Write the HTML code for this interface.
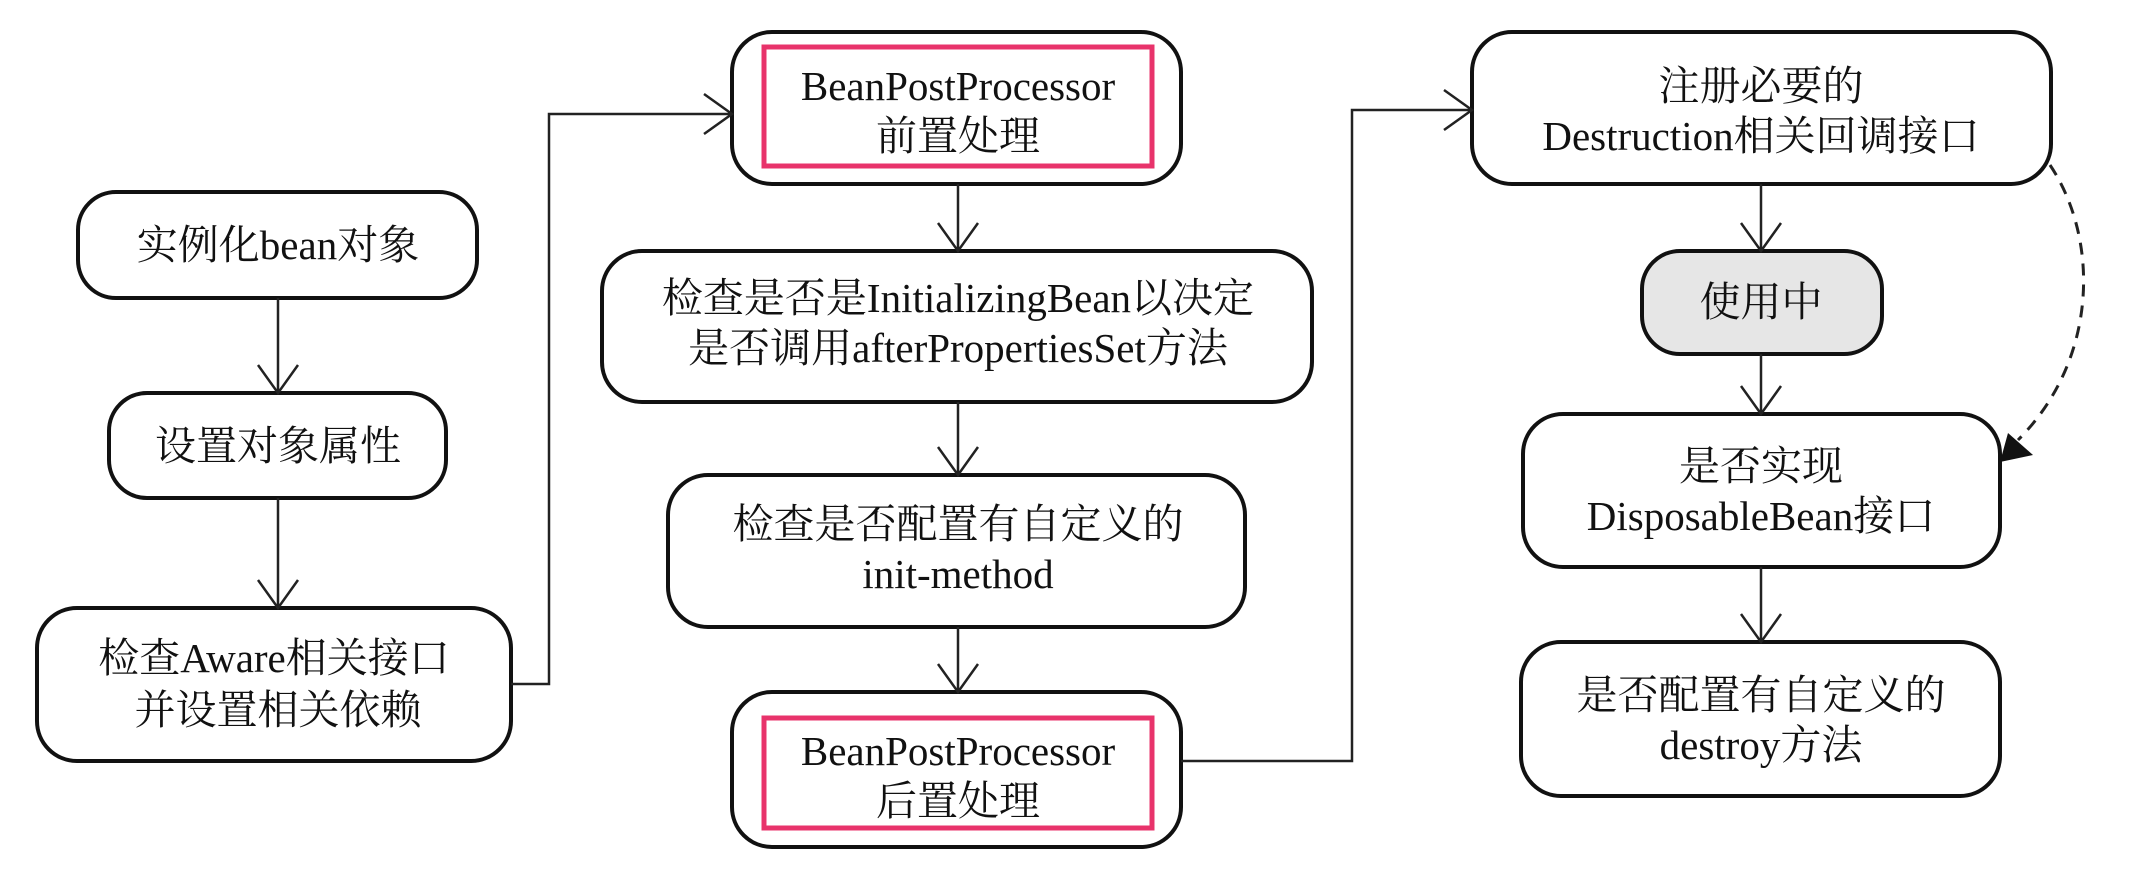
<!DOCTYPE html>
<html><head><meta charset="utf-8"><style>
html,body{margin:0;padding:0;background:#fff;}
svg{display:block}
text{font-family:"Liberation Serif","Noto Serif CJK SC",serif;font-size:41px;fill:#111;text-anchor:middle}
</style></head><body>
<svg width="2134" height="874" viewBox="0 0 2134 874" xmlns="http://www.w3.org/2000/svg">
<defs>
<marker id="fa" markerWidth="12" markerHeight="12" refX="10" refY="6" orient="auto" markerUnits="userSpaceOnUse"></marker>
</defs>
<g fill="none" stroke="#111" stroke-width="4">
<rect x="78" y="192" width="399" height="106" rx="38"/>
<rect x="109" y="393" width="337" height="105" rx="38"/>
<rect x="37" y="608" width="474" height="153" rx="40"/>
<rect x="732" y="32" width="449" height="152" rx="40"/>
<rect x="602" y="251" width="710" height="151" rx="40"/>
<rect x="668" y="475" width="577" height="152" rx="40"/>
<rect x="732" y="692" width="449" height="155" rx="40"/>
<rect x="1472" y="32" width="579" height="152" rx="40"/>
<rect x="1642" y="251" width="240" height="103" rx="38" fill="#e6e6e6"/>
<rect x="1523" y="414" width="477" height="153" rx="40"/>
<rect x="1521" y="642" width="479" height="154" rx="40"/>
</g>
<g fill="none" stroke="#e8336b" stroke-width="5">
<rect x="764" y="47" width="388" height="119"/>
<rect x="764" y="718" width="388" height="110"/>
</g>
<g fill="none" stroke="#222" stroke-width="2.5">
<path d="M278 298V393M258 365L278 393L298 365"/>
<path d="M278 498V608M258 580L278 608L298 580"/>
<path d="M511 684H549V114H732M704 94L732 114L704 134"/>
<path d="M958 184V251M938 223L958 251L978 223"/>
<path d="M958 402V475M938 447L958 475L978 447"/>
<path d="M958 627V692M938 664L958 692L978 664"/>
<path d="M1181 761H1352V110H1472M1444 90L1472 110L1444 130"/>
<path d="M1761 184V251M1741 223L1761 251L1781 223"/>
<path d="M1761 354V414M1741 386L1761 414L1781 386"/>
<path d="M1761 567V642M1741 614L1761 642L1781 614"/>
<path d="M2050 165C2100 240 2098 360 2018 440" stroke-dasharray="12 9" stroke-width="3"/>
</g>
<polygon points="2000,462 2008,433 2033,455" fill="#111"/>
<text x="278" y="259">实例化bean对象</text>
<text x="278" y="460">设置对象属性</text>
<text x="274" y="672">检查Aware相关接口</text>
<text x="278" y="724">并设置相关依赖</text>
<text x="958" y="100">BeanPostProcessor</text>
<text x="958" y="150">前置处理</text>
<text x="958" y="312">检查是否是InitializingBean以决定</text>
<text x="958" y="362">是否调用afterPropertiesSet方法</text>
<text x="958" y="538">检查是否配置有自定义的</text>
<text x="958" y="588">init-method</text>
<text x="958" y="765">BeanPostProcessor</text>
<text x="958" y="815">后置处理</text>
<text x="1761" y="100">注册必要的</text>
<text x="1761" y="150">Destruction相关回调接口</text>
<text x="1761" y="316">使用中</text>
<text x="1761" y="480">是否实现</text>
<text x="1761" y="530">DisposableBean接口</text>
<text x="1761" y="709">是否配置有自定义的</text>
<text x="1761" y="759">destroy方法</text>
</svg>
</body></html>
